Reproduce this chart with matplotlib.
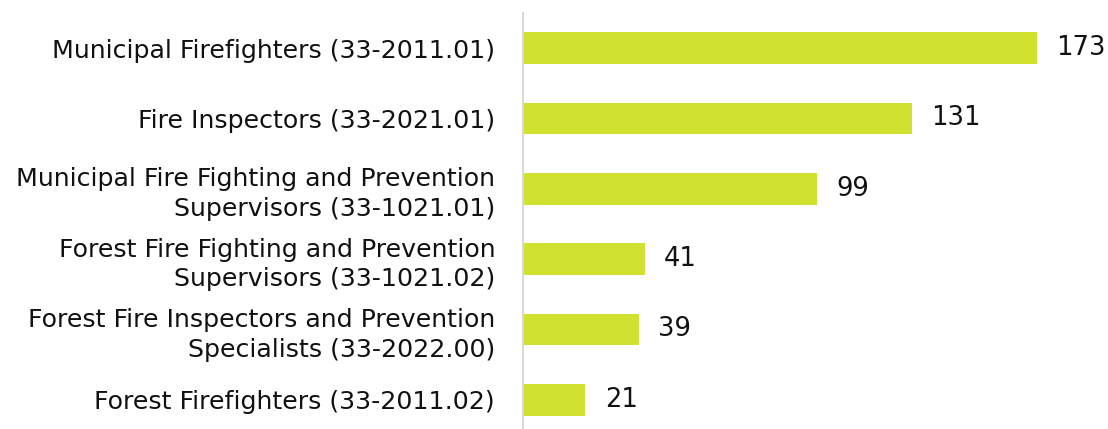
import matplotlib.pyplot as plt

categories = [
    "Municipal Firefighters (33-2011.01)",
    "Fire Inspectors (33-2021.01)",
    "Municipal Fire Fighting and Prevention\nSupervisors (33-1021.01)",
    "Forest Fire Fighting and Prevention\nSupervisors (33-1021.02)",
    "Forest Fire Inspectors and Prevention\nSpecialists (33-2022.00)",
    "Forest Firefighters (33-2011.02)",
]
values = [173, 131, 99, 41, 39, 21]

bar_color = "#d0e22f"
plt.rcParams["font.family"] = ["DejaVu Sans"]

fig = plt.figure(figsize=(11.08, 4.29), dpi=100)
ax = fig.add_axes([0.472, -0.014, 0.528, 0.984])

ypos = list(range(len(categories)))
ax.barh(ypos, values, height=0.45, color=bar_color)
ax.set_ylim(len(categories) - 0.5, -0.5)
ax.set_xlim(0, 197)

for y, v in zip(ypos, values):
    ax.text(v + 6.5, y, str(v), va="center", ha="left", fontsize=18.5, color="#111111")

ax.set_yticks(ypos)
ax.set_yticklabels(categories, fontsize=18.2, color="#111111", linespacing=1.3)
ax.tick_params(axis="y", length=0, pad=20)
ax.set_xticks([])

for side in ["top", "right", "bottom"]:
    ax.spines[side].set_visible(False)
ax.spines["left"].set_color("#d9d9d9")
ax.spines["left"].set_linewidth(1.5)

fig.savefig("out.png", dpi=100)
